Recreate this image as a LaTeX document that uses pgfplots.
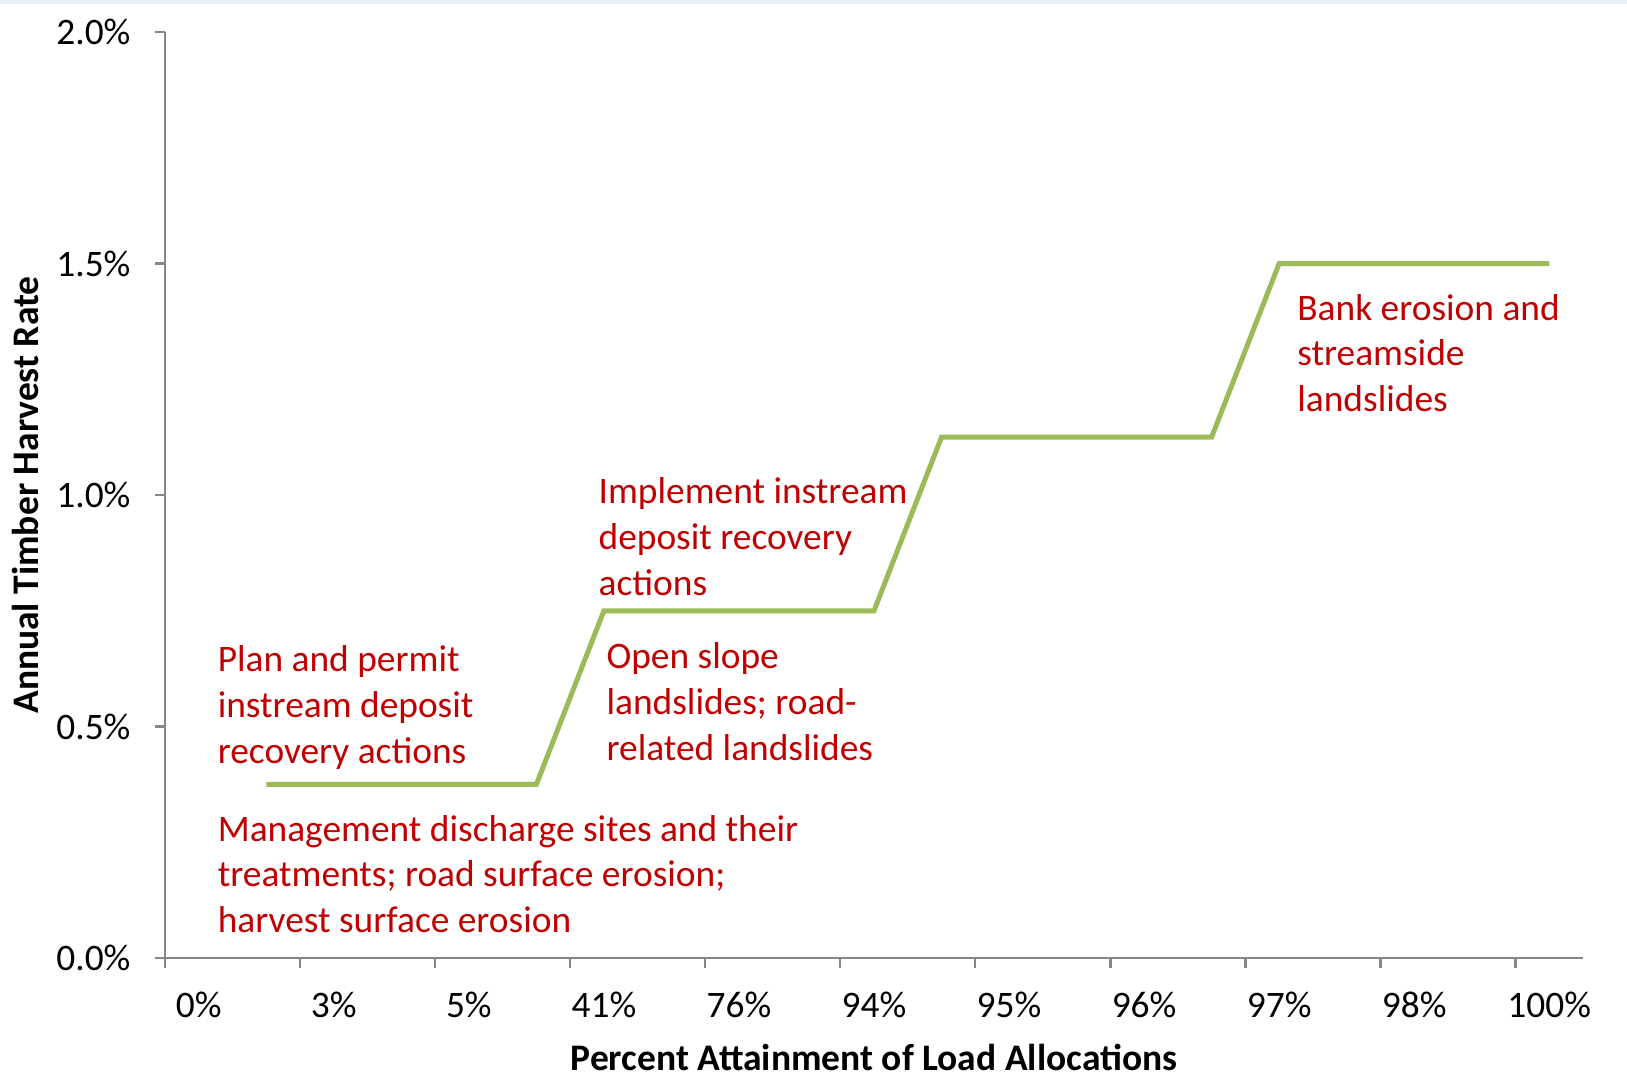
\documentclass[border=0pt]{standalone}
\usepackage{pgfplots}
\pgfplotsset{compat=1.18}
\usepackage{fontspec}
\setmainfont{Carlito}
\definecolor{linegreen}{HTML}{9BBB59}
\definecolor{annred}{HTML}{C00000}
\definecolor{axisgray}{HTML}{868686}
\definecolor{topband}{HTML}{E4F2F4}
\newcommand{\fs}{\fontsize{9.35}{11.3}\selectfont}
\begin{document}
\begin{tikzpicture}
\useasboundingbox (-41.25pt,-29.25pt) rectangle (365.5pt,239.5pt);
\fill[topband] (-41.25pt,238.5pt) rectangle (365.5pt,239.5pt);
\begin{axis}[
  at={(0,0)}, anchor=south west,
  scale only axis, width=354.5pt, height=231.5pt,
  xmin=-0.25, xmax=10.25, ymin=0, ymax=2,
  axis x line*=bottom, axis y line*=left,
  axis line style={draw=axisgray, line width=0.6pt},
  clip=false,
  xtick={0,...,10},
  xticklabels={0\%,3\%,5\%,41\%,76\%,94\%,95\%,96\%,97\%,98\%,100\%},
  minor xtick={-0.25,0.75,...,9.75},
  ytick={0,0.5,...,2},
  yticklabels={0.0\%,0.5\%,1.0\%,1.5\%,2.0\%},
  tick align=outside,
  major tick length=2.5pt, minor tick length=2.5pt,
  major x tick style={draw=none},
  every tick/.style={draw=axisgray, line width=0.6pt},
  minor tick style={draw=axisgray, line width=0.6pt},
  tick label style={font=\fs},
  xticklabel style={anchor=base, yshift=-12.4pt},
  yticklabel style={anchor=east, xshift=-2.6pt},
  xlabel={\textbf{Percent Attainment of Load Allocations}},
  ylabel={\textbf{Annual Timber Harvest Rate}},
  xlabel style={font=\fontsize{9.38}{11}\selectfont, at={(axis description cs:0.5,-0.121)}, anchor=base},
  ylabel style={font=\fontsize{9.38}{11}\selectfont, at={(axis description cs:-0.0894,0.5)}, anchor=base, rotate=0},
]
\addplot[linegreen, line width=1.25pt] coordinates {
  (0.5,0.375) (2.5,0.375) (3,0.75) (5,0.75) (5.5,1.125) (7.5,1.125) (8,1.5) (10,1.5)
};
\begin{scope}[every node/.style={font=\fs, text=annred, anchor=base west, inner sep=0pt}]
\node at (axis cs:0.135,0.618) {Plan and permit};
\node at (axis cs:0.135,0.519) {instream deposit};
\node at (axis cs:0.135,0.420) {recovery actions};
\node at (axis cs:0.135,0.2527) {Management discharge sites and their};
\node at (axis cs:0.135,0.154) {treatments; road surface erosion;};
\node at (axis cs:0.135,0.055) {harvest surface erosion};
\node at (axis cs:2.955,0.981) {Implement instream};
\node at (axis cs:2.955,0.882) {deposit recovery};
\node at (axis cs:2.955,0.784) {actions};
\node at (axis cs:3.014,0.6246) {Open slope};
\node at (axis cs:3.014,0.526) {landslides; road-};
\node at (axis cs:3.014,0.427) {related landslides};
\node at (axis cs:8.129,1.3775) {Bank erosion and};
\node at (axis cs:8.129,1.279) {streamside};
\node at (axis cs:8.129,1.180) {landslides};
\end{scope}
\end{axis}
\end{tikzpicture}
\end{document}
